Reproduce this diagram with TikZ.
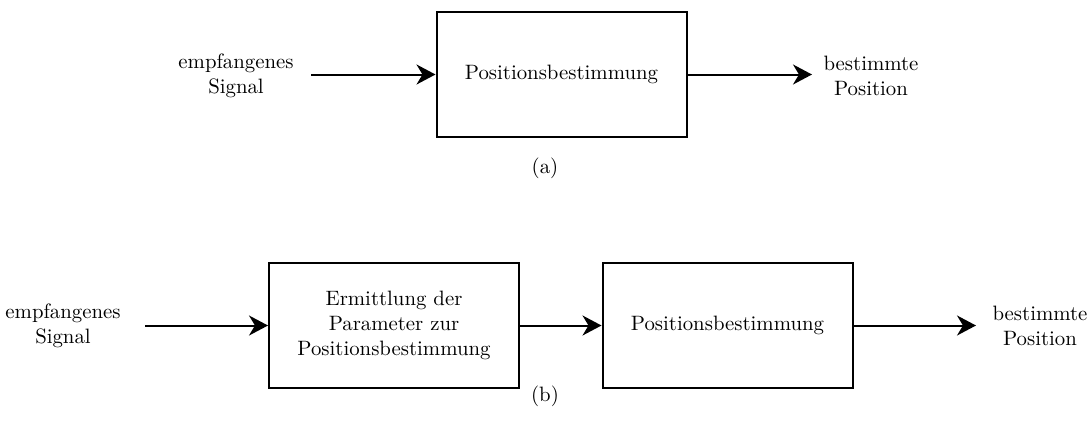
\documentclass[tikz,border=0pt]{standalone}
\usetikzlibrary{arrows.meta,positioning}
\begin{document}
\begin{tikzpicture}[x=0.5pt,y=-0.5pt,
  every node/.style={font=\fontsize{10.4}{12.5}\selectfont},
  blockbox/.style={draw,line width=1pt,minimum width=125pt,minimum height=62.5pt,align=center,inner sep=0pt},
  iolabel/.style={align=center,inner sep=0pt},
  flow/.style={line width=1pt,-{Stealth[length=9.5pt,width=10pt,inset=3pt]}},
  caption/.style={inner sep=0pt}]
\useasboundingbox (0,0) rectangle (1091,430);
% (a) single-stage position estimation
\node[blockbox] (pa) at (561.5,74.5) {Positionsbestimmung};
\node[iolabel] (ina) at (236,76) {empfangenes\\Signal};
\node[iolabel] (outa) at (871,76) {bestimmte\\Position};
\coordinate (ina-e) at (311,74.5);
\coordinate (outa-e) at (812,74.5);
\draw[flow] (ina-e) -- (pa.west);
\draw[flow] (pa.east) -- (outa-e);
\node[caption] (capa) at (545,168) {(a)};
% (b) two-stage position estimation
\node[blockbox] (pb1) at (394,325.5) {Ermittlung der\\Parameter zur\\Positionsbestimmung};
\node[blockbox] (pb2) at (727.5,325.5) {Positionsbestimmung};
\node[iolabel] (inb) at (63,326) {empfangenes\\Signal};
\node[iolabel] (outb) at (1040,326) {bestimmte\\Position};
\coordinate (inb-e) at (145,325.5);
\coordinate (outb-e) at (976,325.5);
\draw[flow] (inb-e) -- (pb1.west);
\draw[flow] (pb1.east) -- (pb2.west);
\draw[flow] (pb2.east) -- (outb-e);
\node[caption] (capb) at (545,396) {(b)};
\end{tikzpicture}
\end{document}
